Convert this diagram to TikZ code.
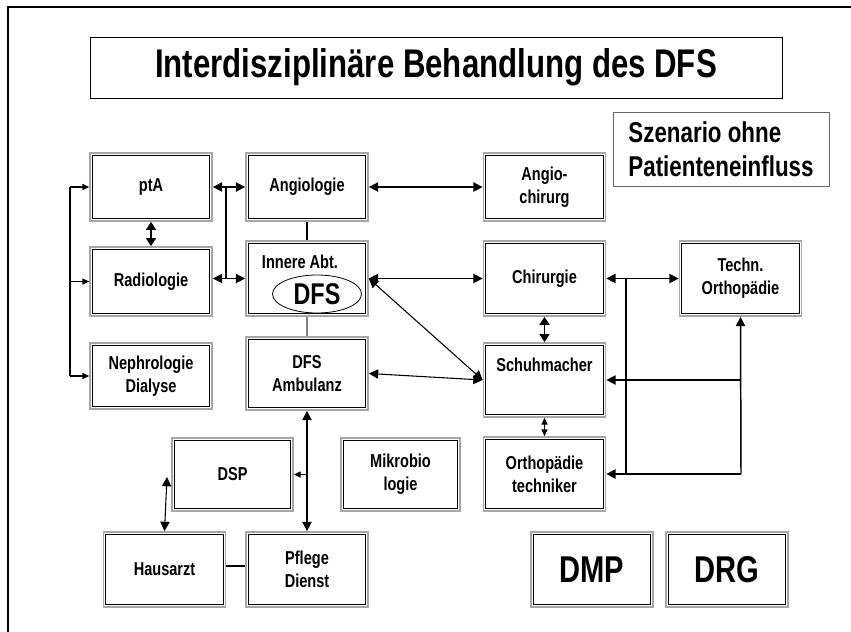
\documentclass[tikz,border=0pt]{standalone}
\usepackage{fontspec}
\setmainfont{Liberation Sans}[FakeStretch=0.78]
\usetikzlibrary{arrows.meta,shapes.geometric}
\begin{document}
\begin{tikzpicture}[x=0.75pt,y=-0.75pt,
  dbox/.style={draw=gray!70, line width=1.3pt, minimum width=91.5pt, inner sep=0pt, align=center,
    font=\bfseries\fontsize{14}{17.5}\selectfont},
  conn/.style={line width=1.1pt},
  thinconn/.style={line width=0.8pt},
  tip/.style={{Triangle[length=7pt,width=7pt]}-{Triangle[length=7pt,width=7pt]}},
  rtip/.style={-{Triangle[length=7pt,width=7pt]}},
  stip/.style={-{Triangle[length=5pt,width=4.5pt]}},
  sboth/.style={{Triangle[length=5pt,width=4.5pt]}-{Triangle[length=5pt,width=4.5pt]}},
  btip/.style={{Triangle[length=6pt,width=7.5pt]}-{Triangle[length=6pt,width=7.5pt]}},
]
\useasboundingbox (0,0) rectangle (851,632);
% outer frame (only top and left visible)
\draw[line width=1.3pt] (8,632) -- (8,7) -- (851,7);

% title
\node[draw, line width=0.7pt, minimum width=519pt, minimum height=45.75pt,
  font=\bfseries\fontsize{30}{34}\selectfont] (title) at (436,67.5) {Interdisziplinäre Behandlung des DFS};
\node[draw=gray!80!black, line width=0.7pt, minimum width=162pt, minimum height=55.5pt, align=left,
  font=\bfseries\fontsize{21.5}{25.5}\selectfont] (szen) at (721,149) {Szenario ohne\\Patienteneinfluss};

% boxes
\node[dbox, minimum height=51pt] (pta) at (151,187) {ptA};
\node[dbox, minimum height=51pt] (angio) at (307,187) {Angiologie};
\node[dbox, minimum height=51pt] (angchir) at (544.5,187) {Angio-\\chirurg};
\node[dbox, minimum height=51.75pt] (radio) at (151,281.5) {Radiologie};
\node[dbox, minimum height=56.25pt] (innere) at (307,278.5) {};
\node[dbox, minimum height=56.25pt] (chir) at (544.5,278.5) {Chirurgie};
\node[dbox, minimum height=56.25pt] (techn) at (740.5,278.5) {Techn.\\Orthopädie};
\node[dbox, minimum height=49.5pt] (neph) at (151,376) {Nephrologie\\Dialyse};
\node[dbox, minimum height=54.75pt] (dfsamb) at (307,373.5) {DFS\\Ambulanz};
\node[dbox, minimum height=55.5pt] (schuh) at (544.5,380) {};
\node[dbox, minimum height=55.5pt] (orth) at (544.5,474) {Orthopädie\\techniker};
\node[dbox, minimum width=90.75pt, minimum height=54.75pt] (dsp) at (232.5,474.5) {DSP};
\node[dbox, minimum width=89.25pt, minimum height=54.75pt] (mikro) at (400.5,474.5) {Mikrobio\\logie};
\node[dbox, minimum height=56.25pt] (haus) at (164.5,569.5) {Hausarzt};
\node[dbox, minimum height=56.25pt] (pflege) at (307,569.5) {Pflege\\Dienst};
\node[dbox, minimum height=56.25pt, font=\bfseries\fontsize{28}{30}\selectfont] (dmp) at (592,569.5) {DMP};
\node[dbox, minimum height=56.25pt, font=\bfseries\fontsize{28}{30}\selectfont] (drg) at (727,569.5) {DRG};

% inner black borders
\foreach \n in {pta,angio,angchir,radio,innere,chir,techn,neph,dfsamb,schuh,orth,dsp,mikro,haus,pflege,dmp,drg}
  \draw[line width=0.75pt] ([shift={(3,3)}]\n.north west) rectangle ([shift={(-3,-3)}]\n.south east);

% texts inside boxes not centred
\node[font=\bfseries\fontsize{14}{17.5}\selectfont] (innertxt) at (300,262) {Innere Abt.};
\node[draw, line width=0.6pt, ellipse, minimum width=66.75pt, minimum height=28.5pt, inner sep=0pt,
  font=\bfseries\fontsize{22.5}{24}\selectfont] (dfs) at (317,294) {DFS};
\node[font=\bfseries\fontsize{14}{17.5}\selectfont] (schuhtxt) at (544.5,365) {Schuhmacher};

% coordinates
\coordinate (L1) at (70,187);
\coordinate (L3) at (70,376);
\coordinate (V1) at (226,187);
\coordinate (V2) at (226,278.5);
\coordinate (R1) at (626,278.5);
\coordinate (R2) at (626,474);
\coordinate (R3) at (741,474);
\coordinate (R4) at (741,380);
\coordinate (D1) at (307,474.5);
\coordinate (H1) at (167,477);

% left bracket
\draw[thinconn] (L1) -- (L3);
\draw[thinconn, stip] (L1) -- (pta.west);
\draw[thinconn, stip] (L1 |- radio.west) -- (radio.west);
\draw[thinconn, stip] (L3) -- (neph.west);

% ptA / Radiologie
\draw[conn, btip] (pta.south) -- (radio.north);
% ptA - Angiologie, Radiologie - Innere
\draw[conn, tip] (pta.east) -- (angio.west);
\draw[conn] (V1) -- (V2);
\draw[conn, tip] (radio.east |- V2) -- (innere.west |- V2);

% plain vertical links
\draw[conn] (angio.south) -- (innere.north);
\draw[thinconn, gray] (innere.south) -- (dfsamb.north);

% middle column to right
\draw[conn, tip] (angio.east) -- (angchir.west);
\draw[conn, tip] (innere.east) -- (chir.west);
\draw[thinconn, tip] (innere.east) -- (schuh.west);
\draw[thinconn, tip] (dfsamb.east) -- (schuh.west);
\draw[conn, btip] (chir.south) -- (schuh.north);
\draw[thinconn, sboth] (schuh.south) -- (orth.north);

% right network
\draw[conn, tip] (chir.east) -- (techn.west);
\draw[conn] (R1) -- (R2);
\draw[conn, rtip] (R3) -- (techn.south);
\draw[conn, rtip] (R4) -- (schuh.east);
\draw[conn, rtip] (R3) -- (orth.east);

% lower left
\draw[conn, tip] (dfsamb.south) -- (pflege.north);
\draw[thinconn, stip] (D1) -- (dsp.east);
\draw[thinconn, tip] (H1) -- (haus.north);
\draw[conn] ([yshift=2.5pt]haus.east) -- ([yshift=2.5pt]pflege.west);
\end{tikzpicture}
\end{document}
